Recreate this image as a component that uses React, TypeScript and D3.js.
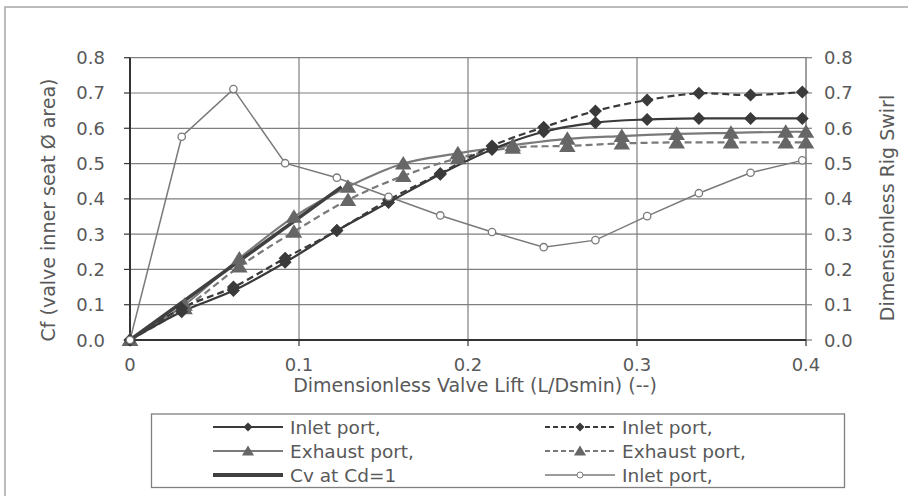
import React from "react";
import * as d3 from "d3";

// Dimensionless valve lift positions for each test set
const inletLift = [0, 0.0306, 0.0612, 0.0918, 0.1224, 0.153, 0.1836, 0.2142, 0.2448, 0.2754, 0.306, 0.3366, 0.3672, 0.3978];
const exhaustLift = [0, 0.0323, 0.0647, 0.097, 0.129, 0.1617, 0.194, 0.2265, 0.2588, 0.291, 0.3235, 0.3556, 0.388, 0.4];
const cvLift = [0, 0.1252];

// Flow coefficient Cf
const inletCfA = [0, 0.08, 0.14, 0.22, 0.31, 0.39, 0.47, 0.54, 0.59, 0.616, 0.625, 0.628, 0.628, 0.628];
const inletCfB = [0, 0.09, 0.15, 0.232, 0.31, 0.397, 0.472, 0.55, 0.603, 0.649, 0.68, 0.699, 0.694, 0.703];
const exhaustCfA = [0, 0.1, 0.231, 0.349, 0.434, 0.5, 0.529, 0.552, 0.57, 0.578, 0.584, 0.587, 0.59, 0.59];
const exhaustCfB = [0, 0.09, 0.208, 0.307, 0.397, 0.465, 0.515, 0.545, 0.55, 0.557, 0.56, 0.56, 0.56, 0.56];
const cvValues = [0, 0.434];

// Dimensionless rig swirl (right axis)
const inletSwirl = [0, 0.576, 0.711, 0.501, 0.46, 0.406, 0.353, 0.306, 0.263, 0.283, 0.351, 0.416, 0.474, 0.509];

const xTicks = [0, 0.1, 0.2, 0.3, 0.4];
const yTicks = [0, 0.1, 0.2, 0.3, 0.4, 0.5, 0.6, 0.7, 0.8];

const legendLabels = ["Inlet port,", "Inlet port,", "Exhaust port,", "Exhaust port,", "Cv at Cd=1", "Inlet port,"];

const W = 908;
const H = 496;
const left = 130;
const right = 806;
const top = 57.7;
const bottom = 340;
const FONT = "DejaVu Sans, Verdana, sans-serif";
const TEXT = "#595959";

const x = d3.scaleLinear().domain([0, 0.4]).range([left, right]);
const y = d3.scaleLinear().domain([0, 0.8]).range([bottom, top]);
const y2 = d3.scaleLinear().domain([0, 0.8]).range([bottom, top]);

type Pt = [number, number];
const zip = (xs: number[], ys: number[]): Pt[] => xs.map((v, i) => [v, ys[i]]);

const smooth = d3.line<Pt>().x(d => x(d[0])).y(d => y(d[1])).curve(d3.curveCatmullRom.alpha(0.5));
const straight = d3.line<Pt>().x(d => x(d[0])).y(d => y(d[1]));
const straight2 = d3.line<Pt>().x(d => x(d[0])).y(d => y2(d[1]));

const diamond = (cx: number, cy: number, r: number) =>
  `M${cx},${cy - r}L${cx + r},${cy}L${cx},${cy + r}L${cx - r},${cy}Z`;
const triangle = (cx: number, cy: number, r: number) =>
  `M${cx},${cy - r}L${cx + r * 1.1},${cy + r * 0.8}L${cx - r * 1.1},${cy + r * 0.8}Z`;

const DARK = "#3a3a3a";
const MID = "#666666";
const LIGHT = "#7a7a7a";

export default function App() {
  const inA = zip(inletLift, inletCfA);
  const inB = zip(inletLift, inletCfB);
  const exA = zip(exhaustLift, exhaustCfA);
  const exB = zip(exhaustLift, exhaustCfB);
  const cv = zip(cvLift, cvValues);
  const sw = zip(inletLift, inletSwirl);

  const legendRows = [
    { col: 0, row: 0, stroke: DARK, dash: "", w: 2, marker: "diamond", fill: DARK },
    { col: 1, row: 0, stroke: DARK, dash: "5,3", w: 2, marker: "diamond", fill: DARK },
    { col: 0, row: 1, stroke: LIGHT, dash: "", w: 2, marker: "triangle", fill: MID },
    { col: 1, row: 1, stroke: LIGHT, dash: "5,3", w: 2, marker: "triangle", fill: MID },
    { col: 0, row: 2, stroke: "#404040", dash: "", w: 4, marker: "none", fill: "" },
    { col: 1, row: 2, stroke: LIGHT, dash: "", w: 1.3, marker: "circle", fill: "#fff" },
  ];

  return (
    <svg width={W} height={H} style={{ position: "absolute", left: 0, top: 0, background: "#fff" }}>
      <rect x={0} y={0} width={W} height={H} fill="#fff" />
      {/* outer frame */}
      <rect x={5} y={7} width={W + 20} height={H + 20} fill="none" stroke="#a6a6a6" strokeWidth={1.5} />

      {/* grid */}
      {yTicks.map(t => (
        <line key={"gy" + t} x1={left} x2={right} y1={y(t)} y2={y(t)} stroke="#7f7f7f" strokeWidth={1.2} />
      ))}
      {xTicks.slice(1, -1).map(t => (
        <line key={"gx" + t} x1={x(t)} x2={x(t)} y1={top} y2={bottom} stroke="#7f7f7f" strokeWidth={1.2} />
      ))}

      {/* axes */}
      <line x1={right} x2={right} y1={top} y2={bottom} stroke="#7f7f7f" strokeWidth={1.5} />
      {yTicks.map(t => (
        <line key={"rt" + t} x1={right} x2={right + 6} y1={y2(t)} y2={y2(t)} stroke="#7f7f7f" strokeWidth={1.2} />
      ))}
      <line x1={left} x2={left} y1={top} y2={bottom} stroke="#333" strokeWidth={2} />
      {yTicks.map(t => (
        <line key={"lt" + t} x1={left - 6} x2={left} y1={y(t)} y2={y(t)} stroke="#333" strokeWidth={1.2} />
      ))}
      <line x1={left} x2={right} y1={bottom} y2={bottom} stroke="#333" strokeWidth={2} />
      {xTicks.map(t => (
        <line key={"bt" + t} x1={x(t)} x2={x(t)} y1={bottom} y2={bottom + 6} stroke="#333" strokeWidth={1.2} />
      ))}

      {/* tick labels */}
      <g fontFamily={FONT} fontSize={18} fill={TEXT}>
        {yTicks.map(t => (
          <text key={"ly" + t} x={105} y={y(t)} textAnchor="end" dominantBaseline="central">{t.toFixed(1)}</text>
        ))}
        {yTicks.map(t => (
          <text key={"ry" + t} x={824} y={y2(t)} textAnchor="start" dominantBaseline="central">{t.toFixed(1)}</text>
        ))}
        {xTicks.map(t => (
          <text key={"lx" + t} x={x(t)} y={364} textAnchor="middle" dominantBaseline="central">{t === 0 ? "0" : String(t)}</text>
        ))}
      </g>

      {/* axis titles */}
      <g fontFamily={FONT} fontSize={19} fill={TEXT} style={{ whiteSpace: "pre" }}>
        <text x={475} y={385} textAnchor="middle" dominantBaseline="central">Dimensionless Valve Lift (L/Dsmin) (--)</text>
        <text transform={`translate(48,${210}) rotate(-90)`} textAnchor="middle" dominantBaseline="central">{"Cf  (valve inner seat Ø area)"}</text>
        <text transform={`translate(887,${208}) rotate(-90)`} textAnchor="middle" dominantBaseline="central">Dimensionless Rig Swirl</text>
      </g>

      {/* swirl */}
      <path d={straight2(sw) || ""} fill="none" stroke={LIGHT} strokeWidth={1.5} />

      {/* exhaust series */}
      <path d={smooth(exA) || ""} fill="none" stroke={LIGHT} strokeWidth={2.2} />
      <path d={smooth(exB) || ""} fill="none" stroke={LIGHT} strokeWidth={2.2} strokeDasharray="7,4" />

      {/* inlet series */}
      <path d={smooth(inA) || ""} fill="none" stroke={DARK} strokeWidth={2.2} />
      <path d={smooth(inB) || ""} fill="none" stroke={DARK} strokeWidth={2.2} strokeDasharray="7,4" />

      {/* Cv reference */}
      <path d={straight(cv) || ""} fill="none" stroke="#404040" strokeWidth={3.5} />

      {/* markers */}
      {exA.map((d, i) => <path key={"ta" + i} d={triangle(x(d[0]), y(d[1]), 7.5)} fill={MID} />)}
      {exB.map((d, i) => <path key={"tb" + i} d={triangle(x(d[0]), y(d[1]), 7.5)} fill={MID} />)}
      {inA.map((d, i) => <path key={"da" + i} d={diamond(x(d[0]), y(d[1]), 6.5)} fill={DARK} />)}
      {inB.map((d, i) => <path key={"db" + i} d={diamond(x(d[0]), y(d[1]), 6.5)} fill={DARK} />)}
      {sw.map((d, i) => (
        <circle key={"c" + i} cx={x(d[0])} cy={y2(d[1])} r={3.7} fill="#fff" stroke={LIGHT} strokeWidth={1.3} />
      ))}

      {/* legend */}
      <rect x={151.5} y={414} width={693} height={73.5} fill="#fff" stroke="#7f7f7f" strokeWidth={1.3} />
      <g fontFamily={FONT} fontSize={18.5} fill={TEXT}>
        {legendRows.map((r, i) => {
          const x0 = r.col === 0 ? 213 : 545;
          const x1 = x0 + 70;
          const cy = 427 + r.row * 24;
          const mx = (x0 + x1) / 2;
          return (
            <g key={"lg" + i}>
              <line x1={x0} x2={x1} y1={cy} y2={cy} stroke={r.stroke} strokeWidth={r.w} strokeDasharray={r.dash} />
              {r.marker === "diamond" && <path d={diamond(mx, cy, 4.5)} fill={r.fill} />}
              {r.marker === "triangle" && <path d={triangle(mx, cy, 5.5)} fill={r.fill} />}
              {r.marker === "circle" && <circle cx={mx} cy={cy} r={3} fill="#fff" stroke={r.stroke} strokeWidth={1} />}
              <text x={x1 + 7} y={cy} dominantBaseline="central">{legendLabels[i]}</text>
            </g>
          );
        })}
      </g>
    </svg>
  );
}
